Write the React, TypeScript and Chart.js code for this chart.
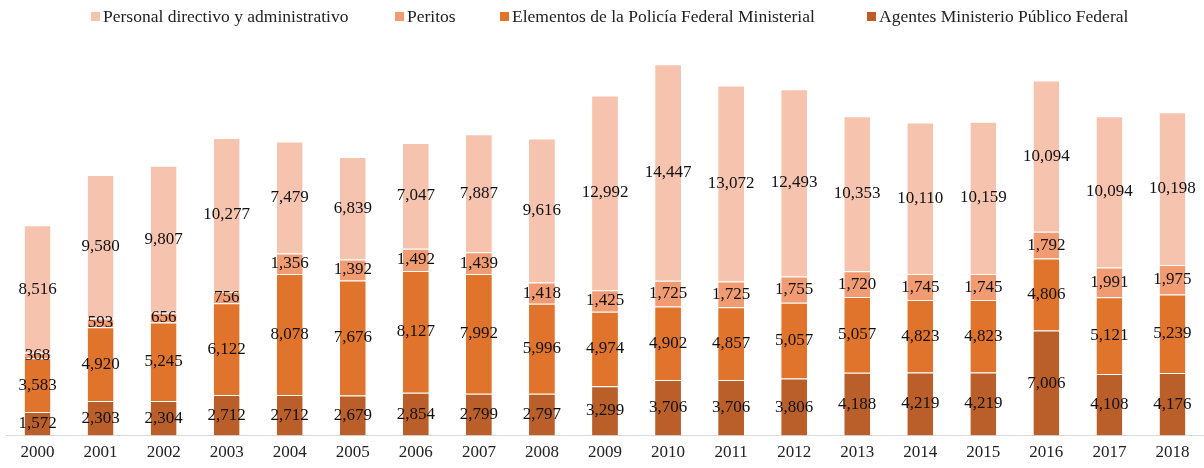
import React, { useEffect, useRef } from "react";
import { Chart, registerables } from "chart.js";

Chart.register(...registerables);

const years = ["2000","2001","2002","2003","2004","2005","2006","2007","2008","2009","2010","2011","2012","2013","2014","2015","2016","2017","2018"];
const agentes = [1572,2303,2304,2712,2712,2679,2854,2799,2797,3299,3706,3706,3806,4188,4219,4219,7006,4108,4176];
const elementos = [3583,4920,5245,6122,8078,7676,8127,7992,5996,4974,4902,4857,5057,5057,4823,4823,4806,5121,5239];
const peritos = [368,593,656,756,1356,1392,1492,1439,1418,1425,1725,1725,1755,1720,1745,1745,1792,1991,1975];
const personal = [8516,9580,9807,10277,7479,6839,7047,7887,9616,12992,14447,13072,12493,10353,10110,10159,10094,10094,10198];

const seriesNames = [
  "Agentes Ministerio Público Federal",
  "Elementos de la Policía Federal Ministerial",
  "Peritos",
  "Personal directivo y administrativo",
];
const seriesColors = ["#BB5F2A", "#E0742D", "#F19B72", "#F6C3AF"];
const legendOrder = [3, 2, 1, 0];
const legendX = [91, 395, 500, 867];

const FONT = "'Liberation Serif', 'Times New Roman', serif";

const valueLabels = {
  id: "valueLabels",
  afterDatasetsDraw(chart: any) {
    const ctx = chart.ctx;
    ctx.save();
    ctx.font = `17px ${FONT}`;
    ctx.fillStyle = "#111";
    ctx.textAlign = "center";
    ctx.textBaseline = "middle";
    chart.data.datasets.forEach((ds: any, di: number) => {
      const meta = chart.getDatasetMeta(di);
      meta.data.forEach((bar: any, i: number) => {
        const v = ds.data[i];
        const y = (bar.y + bar.base) / 2;
        ctx.fillText(v.toLocaleString("en-US"), bar.x, y);
      });
    });
    ctx.restore();
  },
};

export default function App() {
  const ref = useRef<HTMLCanvasElement>(null);
  useEffect(() => {
    const datas = [agentes, elementos, peritos, personal];
    const chart = new Chart(ref.current!, {
      type: "bar",
      data: {
        labels: years,
        datasets: datas.map((d, i) => ({
          label: seriesNames[i],
          data: d,
          backgroundColor: seriesColors[i],
          borderColor: "rgba(255,255,255,0.85)",
          borderWidth: { top: 1, left: 0, right: 0, bottom: 0 },
          borderSkipped: false,
          barPercentage: 0.41,
          categoryPercentage: 1,
        })),
      },
      options: {
        animation: false,
        responsive: false,
        maintainAspectRatio: false,
        layout: { padding: { left: 6, right: 0, top: 61, bottom: 0 } },
        plugins: { legend: { display: false }, tooltip: { enabled: false } },
        scales: {
          x: {
            stacked: true,
            grid: { display: false, drawTicks: false },
            border: { display: true, color: "#D9D9D9", width: 1 },
            ticks: { color: "#222", font: { family: FONT, size: 17 }, padding: 7 },
          },
          y: { stacked: true, display: false, min: 0, max: 25000 },
        },
      },
      plugins: [valueLabels],
    });
    return () => chart.destroy();
  }, []);

  return (
    <div style={{ position: "fixed", left: 0, top: 0, width: 1204, height: 468, background: "#fff", overflow: "hidden" }}>
      <canvas ref={ref} width={1204} height={470} style={{ position: "absolute", left: 0, top: 0 }} />
      {legendOrder.map((i, k) => (
        <div
          key={i}
          style={{
            position: "absolute",
            top: 6,
            left: legendX[k],
            height: 21,
            display: "flex",
            alignItems: "center",
            fontFamily: FONT,
            fontSize: 17.5,
            lineHeight: "21px",
            color: "#222",
            whiteSpace: "nowrap",
          }}
        >
          <span style={{ display: "inline-block", width: 9, height: 9, background: seriesColors[i], marginRight: 3 }} />
          <span>{seriesNames[i]}</span>
        </div>
      ))}
    </div>
  );
}
